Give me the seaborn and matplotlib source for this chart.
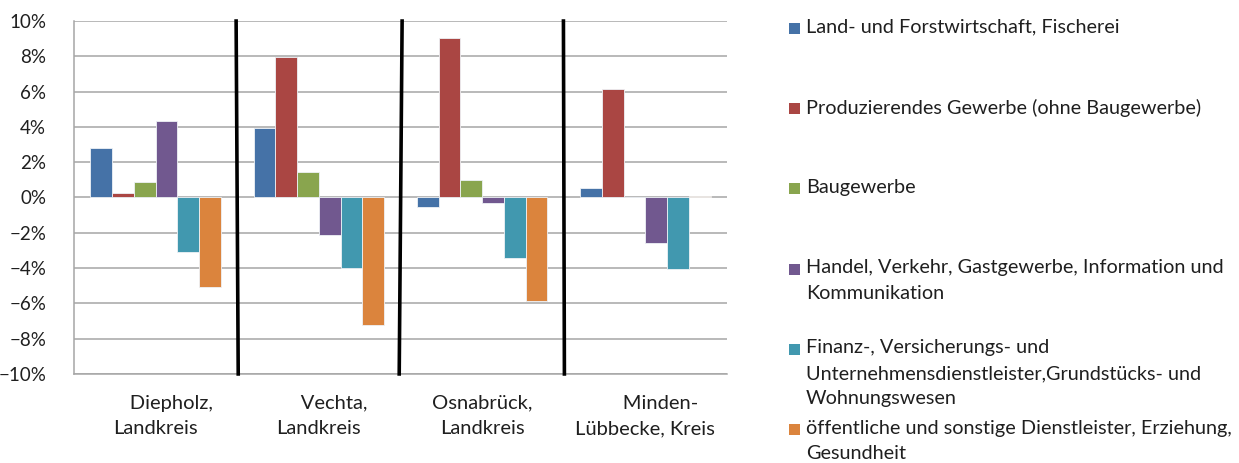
import matplotlib
matplotlib.use("Agg")
import matplotlib.pyplot as plt
from matplotlib.patches import Rectangle
from matplotlib.ticker import PercentFormatter
import pandas as pd
import seaborn as sns

# Regions (x categories) and their printed two-line labels
regions = ["Diepholz, Landkreis", "Vechta, Landkreis", "Osnabrück, Landkreis", "Minden-Lübbecke, Kreis"]
region_labels = ["      Diepholz,\nLandkreis", "      Vechta,\nLandkreis",
                 "Osnabrück,\nLandkreis", "      Minden-\nLübbecke, Kreis"]

# Economic sectors (series)
sectors = [
    "Land- und Forstwirtschaft, Fischerei",
    "Produzierendes Gewerbe (ohne Baugewerbe)",
    "Baugewerbe",
    "Handel, Verkehr, Gastgewerbe, Information und Kommunikation",
    "Finanz-, Versicherungs- und Unternehmensdienstleister,Grundstücks- und Wohnungswesen",
    "öffentliche und sonstige Dienstleister, Erziehung, Gesundheit",
]
sector_legend = [
    "Land- und Forstwirtschaft, Fischerei",
    "Produzierendes Gewerbe (ohne Baugewerbe)",
    "Baugewerbe",
    "Handel, Verkehr, Gastgewerbe, Information und\nKommunikation",
    "Finanz-, Versicherungs- und\nUnternehmensdienstleister,Grundstücks- und\nWohnungswesen",
    "öffentliche und sonstige Dienstleister, Erziehung,\nGesundheit",
]

# Change in percent, one list per sector (order follows `regions`)
land_forst = [2.8, 3.95, -0.55, 0.55]
produzierend = [0.25, 7.95, 9.05, 6.15]
baugewerbe = [0.9, 1.45, 1.0, 0.05]
handel = [4.35, -2.15, -0.3, -2.6]
finanz = [-3.1, -4.0, -3.45, -4.05]
oeffentlich = [-5.05, -7.25, -5.85, 0.07]

colors = ["#4572A7", "#AA4643", "#89A54E", "#71588F", "#4198AF", "#DB843D"]

series = [land_forst, produzierend, baugewerbe, handel, finanz, oeffentlich]
rows = []
for sector, vals in zip(sectors, series):
    for region, v in zip(regions, vals):
        rows.append({"Region": region, "Sektor": sector, "Wert": v})
df = pd.DataFrame(rows)

sns.set_theme(style="white")
plt.rcParams["font.family"] = ["Lato", "DejaVu Sans"]
text_color = "#1f1f1f"

W, H = 1239, 463
fig = plt.figure(figsize=(W / 100, H / 100), dpi=100)
ax = fig.add_axes([74 / W, 1 - 374 / H, (727 - 74) / W, (374 - 21) / H])

sns.barplot(data=df, x="Region", y="Wert", hue="Sektor", order=regions,
            hue_order=sectors, palette=colors, saturation=1, width=0.8,
            edgecolor="#eef2f6", linewidth=0.6, legend=False, ax=ax)

ax.set_ylim(-10, 10)
ax.set_yticks(range(-10, 11, 2))
ax.yaxis.set_major_formatter(PercentFormatter(decimals=0))
ax.set_xlim(-0.5, len(regions) - 0.5)
ax.set_xticks(range(len(regions)))
ax.set_xticklabels(region_labels, fontsize=14.5, color=text_color, linespacing=1.6)
ax.set_xlabel("")
ax.set_ylabel("")
ax.tick_params(axis="x", length=0, pad=15)
ax.tick_params(axis="y", length=0, pad=20, labelsize=13.5, labelcolor=text_color)

ax.set_axisbelow(True)
ax.yaxis.grid(True, color="#a6a6a6", linewidth=1.1)
for side in ["top", "right"]:
    ax.spines[side].set_visible(False)
for side in ["left", "bottom"]:
    ax.spines[side].set_color("#a6a6a6")
    ax.spines[side].set_linewidth(1.1)

# Black dividers between the regions
lean = [(-0.007, 0.006), (0.01, -0.008), (-0.002, 0.004)]
for i, (dt, db) in enumerate(lean):
    b = i + 0.5
    ax.plot([b + dt, b + db], [10.1, -10.1], color="black", linewidth=2.6,
            clip_on=False, solid_capstyle="butt", zorder=5)

# Legend with evenly spaced entries on the right
lx, ly0, pitch = 789, 28.3, 80.3
for k, (lab, c) in enumerate(zip(sector_legend, colors)):
    yc = ly0 + k * pitch
    fig.add_artist(Rectangle((lx / W, 1 - (yc + 5.5) / H), 11 / W, 11 / H,
                             transform=fig.transFigure, facecolor=c, edgecolor="none"))
    fig.text((lx + 17) / W, 1 - (yc - 10) / H, lab, fontsize=14.3, color=text_color,
             va="top", ha="left", linespacing=1.6)

fig.savefig("out.png", dpi=100)
